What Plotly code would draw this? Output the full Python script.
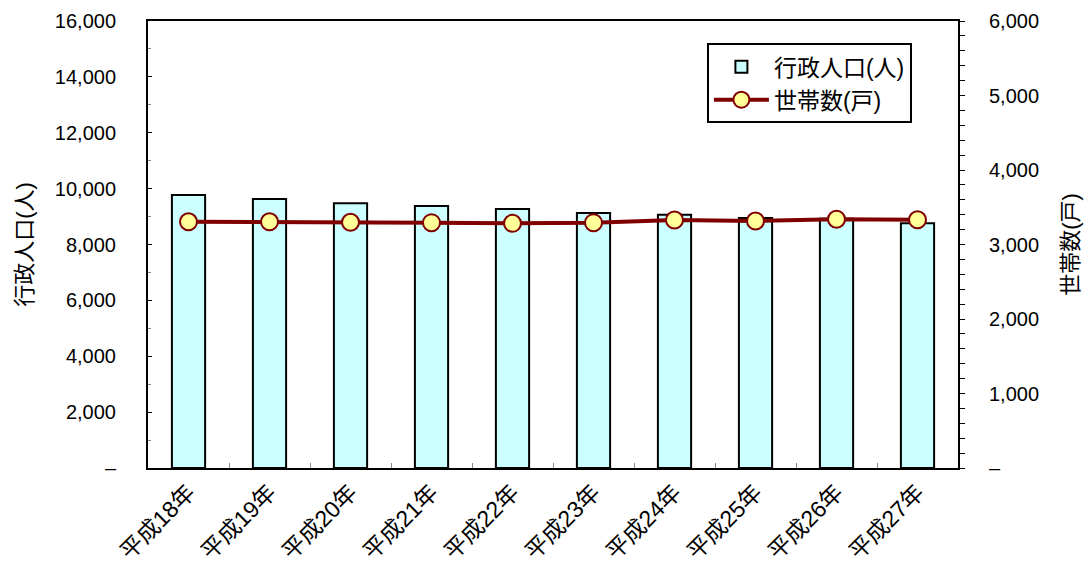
import plotly.graph_objects as go

# 年次ごとの行政人口と世帯数
years = ["平成18年", "平成19年", "平成20年", "平成21年", "平成22年",
         "平成23年", "平成24年", "平成25年", "平成26年", "平成27年"]
population = [9770, 9630, 9475, 9380, 9270, 9130, 9065, 8950, 8920, 8760]
households = [3306, 3306, 3299, 3293, 3284, 3293, 3329, 3316, 3338, 3333]

pop_ticks = list(range(0, 16001, 2000))
pop_ticktext = ["–"] + [f"{v:,}" for v in pop_ticks[1:]]
hh_ticks = list(range(0, 6001, 1000))
hh_ticktext = ["–"] + [f"{v:,}" for v in hh_ticks[1:]]

FONT = "Liberation Sans, Arial, Noto Sans CJK JP"

fig = go.Figure()
fig.add_trace(go.Bar(
    x=years, y=population, name="行政人口(人)",
    marker=dict(color="#CCFFFF", line=dict(color="black", width=2)),
    width=0.41,
))
fig.add_trace(go.Scatter(
    x=years, y=households, name="世帯数(戸)", yaxis="y2",
    mode="lines+markers",
    line=dict(color="#800000", width=4),
    marker=dict(size=17, color="#FFFF99", line=dict(color="#800000", width=2)),
))

fig.update_layout(
    width=1085, height=567,
    margin=dict(l=148, r=127, t=21, b=99, autoexpand=False),
    paper_bgcolor="white", plot_bgcolor="white",
    font=dict(family=FONT, size=20, color="black"),
    showlegend=True,
    legend=dict(
        x=0.69, y=0.95, xanchor="left", yanchor="top",
        bgcolor="white", bordercolor="black", borderwidth=2,
        font=dict(size=23), tracegroupgap=4, itemwidth=55,
    ),
    xaxis=dict(
        type="category", range=[-0.5, 9.5],
        showline=True, linecolor="black", linewidth=2,
        mirror=True, ticks="inside", ticklen=5, tickcolor="#888",
        tickson="boundaries", tickangle=-45, showgrid=False,
        tickfont=dict(size=23),
    ),
    yaxis=dict(
        range=[0, 16000], tickvals=pop_ticks, ticktext=pop_ticktext,
        showline=True, linecolor="black", linewidth=2,
        ticks="inside", ticklen=4, tickcolor="black",
        minor=dict(dtick=1000, ticks="inside", ticklen=3, tickcolor="#888"),
        showgrid=False, zeroline=False, ticklabelstandoff=26,
        title=dict(text="行政人口(人)", standoff=16, font=dict(size=22)),
    ),
    yaxis2=dict(
        range=[0, 6000], tickvals=hh_ticks, ticktext=hh_ticktext,
        overlaying="y", side="right",
        showline=True, linecolor="black", linewidth=2,
        ticks="outside", ticklen=5, tickcolor="black",
        minor=dict(dtick=200, ticks="outside", ticklen=5, tickcolor="black"),
        showgrid=False, zeroline=False, ticklabelstandoff=20,
        title=dict(text="世帯数(戸)", standoff=25, font=dict(size=22)),
    ),
    bargap=0.59,
)

fig.write_html("out.html")
